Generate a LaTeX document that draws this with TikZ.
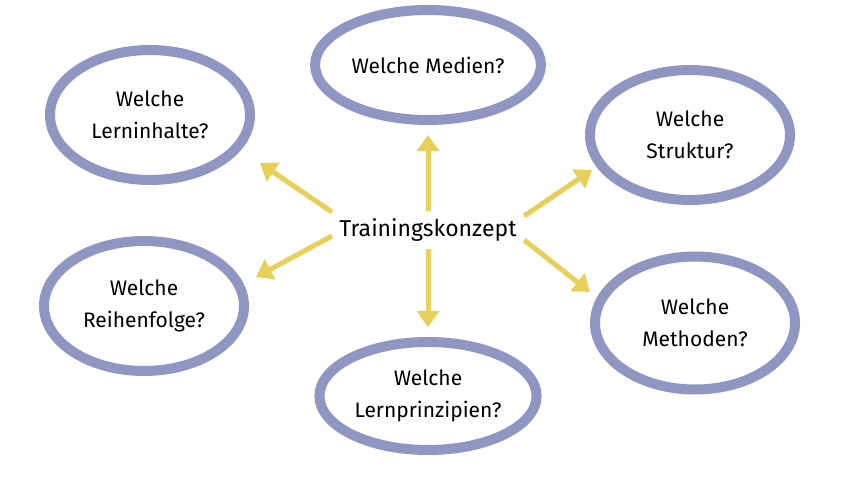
\documentclass[tikz,border=0pt]{standalone}
\usepackage{fontspec}
\setmainfont{Fira Sans}
\usetikzlibrary{shapes.geometric,arrows.meta}

\definecolor{ringblue}{HTML}{8F96C2}
\definecolor{pfeilgelb}{HTML}{E8CF57}
\tikzset{
  frage/.style={ellipse,draw=ringblue,line width=10pt,minimum width=200pt,
    minimum height=130pt,align=center,font=\fontsize{21}{32}\selectfont},
  pfeil/.style={draw=pfeilgelb,line width=5pt,-{Triangle[length=16pt,width=22pt]}}
}

\begin{document}
\begin{tikzpicture}[x=1pt,y=-1pt]
  \useasboundingbox (0,0) rectangle (853,481);

  \node[font=\fontsize{23}{27}\selectfont] (konzept) at (428,230) {Trainingskonzept};

  \node[frage,minimum width=205pt,minimum height=110pt] (medien) at (428,65) {Welche Medien?};
  \node[frage] (inhalte) at (150,115) {Welche\\Lerninhalte?};
  \node[frage] (struktur) at (690,135) {Welche\\Struktur?};
  \node[frage] (folge) at (144,306) {Welche\\Reihenfolge?};
  \node[frage,minimum height=133pt] (methoden) at (695,323) {Welche\\Methoden?};
  \node[frage,minimum width=203pt,minimum height=108pt] (prinzipien) at (428,396) {Welche\\Lernprinzipien?};

  % Pfeilenden
  \coordinate (zuMedien) at (428,135);
  \coordinate (zuPrinzipien) at (428,327);
  \coordinate (zuInhalte) at (260,163);
  \coordinate (zuFolge) at (256,277);
  \coordinate (zuStruktur) at (592,170);
  \coordinate (zuMethoden) at (590,292);

  \draw[pfeil] (konzept.north) ++(0,-4) coordinate (a) (a) -- (zuMedien);
  \draw[pfeil] (konzept.south) ++(0,4) coordinate (b) (b) -- (zuPrinzipien);
  \draw[pfeil] (konzept.west) ++(-4,-18) coordinate (c) (c) -- (zuInhalte);
  \draw[pfeil] (konzept.west) ++(-4,6) coordinate (d) (d) -- (zuFolge);
  \draw[pfeil] (konzept.east) ++(4,-14) coordinate (e) (e) -- (zuStruktur);
  \draw[pfeil] (konzept.east) ++(4,10) coordinate (f) (f) -- (zuMethoden);
\end{tikzpicture}
\end{document}
